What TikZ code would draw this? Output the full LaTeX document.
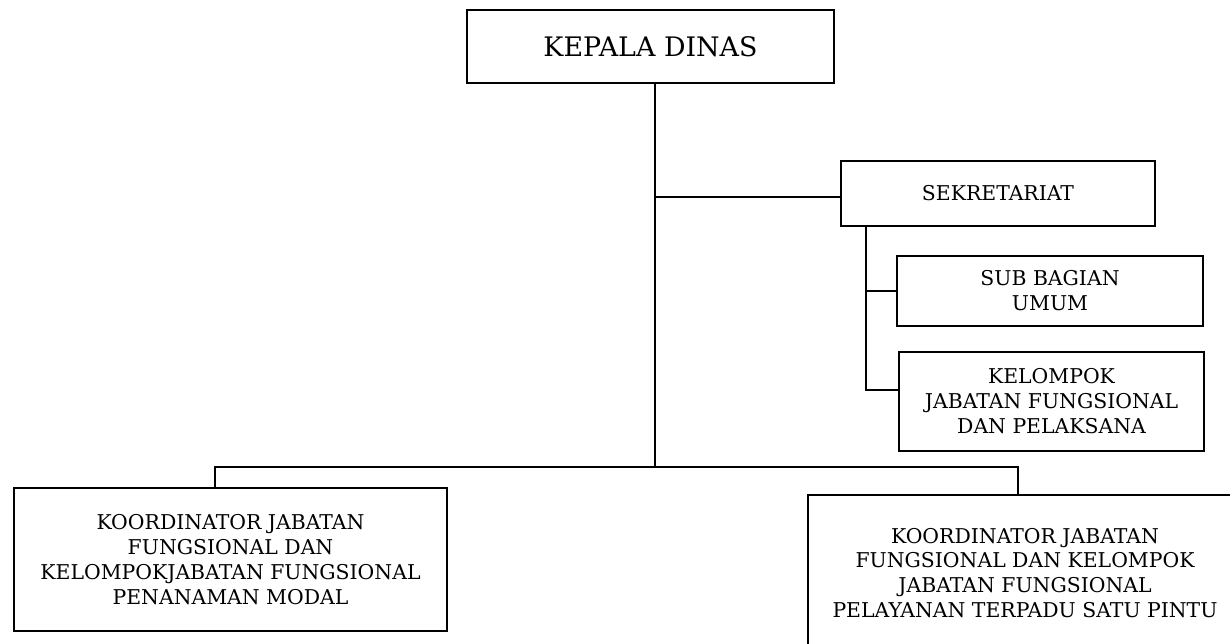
\documentclass[tikz,border=0pt]{standalone}
\usepackage{fontspec}
\setmainfont{DejaVu Serif}
\begin{document}
\begin{tikzpicture}[x=0.02cm,y=-0.02cm,
  box/.style={draw,line width=0.9pt,rectangle,align=center,inner sep=0pt,font=\fontsize{11.6}{14.2}\selectfont},
  conn/.style={line width=0.9pt}]
\useasboundingbox (0,0) rectangle (1230,643);
\node[box,minimum width=367*0.02cm,minimum height=73*0.02cm,font=\fontsize{15.3}{17}\selectfont] (kd) at (650.5,46.5) {KEPALA DINAS};
\node[box,minimum width=314*0.02cm,minimum height=65*0.02cm] (sek) at (998,193.5) {SEKRETARIAT};
\node[box,minimum width=306*0.02cm,minimum height=70*0.02cm] (sub) at (1050,291) {SUB BAGIAN\\UMUM};
\node[box,minimum width=305*0.02cm,minimum height=99*0.02cm] (kel) at (1051.5,401.5) {KELOMPOK\\JABATAN FUNGSIONAL\\DAN PELAKSANA};
\node[box,minimum width=433*0.02cm,minimum height=143*0.02cm] (kjpm) at (230.5,559.5) {KOORDINATOR JABATAN\\FUNGSIONAL DAN\\KELOMPOKJABATAN FUNGSIONAL\\PENANAMAN MODAL};
\node[box,minimum width=434*0.02cm,minimum height=156*0.02cm] (kjpt) at (1025,573) {KOORDINATOR JABATAN\\FUNGSIONAL DAN KELOMPOK\\JABATAN FUNGSIONAL\\PELAYANAN TERPADU SATU PINTU};
\coordinate (bus) at (655,467);
\coordinate (sj) at (841,197);
\coordinate (sv) at (866,390);
\coordinate (bl) at (215,467);
\coordinate (br) at (1018,467);
\draw[conn] (kd.south -| bus) -- (bus);
\draw[conn] (sj -| bus) -- (sj);
\draw[conn] (sek.south -| sv) -- (sv) -- (kel.west |- sv);
\draw[conn] (sub.west -| sv) -- (sub.west);
\draw[conn] (kjpm.north -| bl) -- (bl) -- (br) -- (kjpt.north -| br);
\end{tikzpicture}
\end{document}
